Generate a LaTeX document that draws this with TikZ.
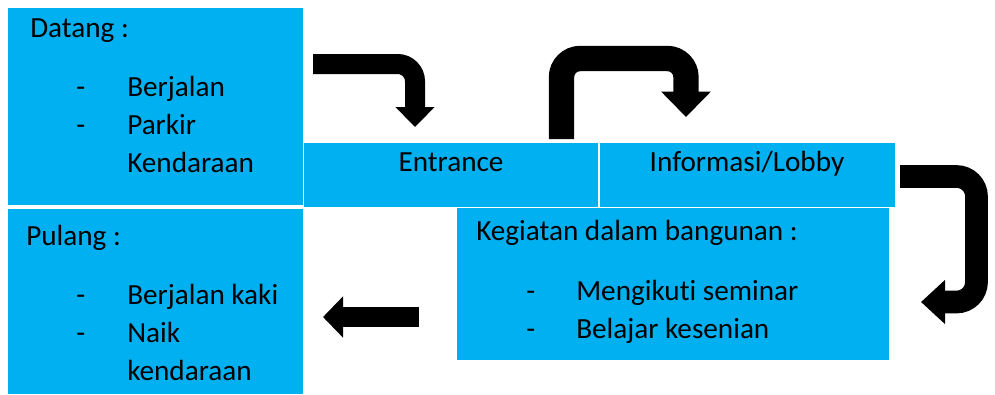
\documentclass[tikz,border=0pt]{standalone}
\usepackage{fontspec}
\setmainfont{Carlito}[Ligatures=NoCommon]
\usetikzlibrary{arrows.meta}
\definecolor{boxblue}{HTML}{00B0F0}

\begin{document}
\begin{tikzpicture}[x=0.75pt, y=-0.75pt, font=\fontsize{21.9pt}{26pt}\selectfont,
  lbl/.style={anchor=base west, inner sep=0pt},
  mid/.style={anchor=base, inner sep=0pt},
  blockarrow/.style={draw=black, line width=#1}]
\useasboundingbox (0,0) rectangle (995,394);
% left column: coming and leaving
\fill[boxblue] (8,8) rectangle (303,205);
\node[lbl] (datang) at (30,37) {Datang :};
\node[lbl] (dashA) at (76,96) {-};
\node[lbl] (berjalan) at (127,96) {Berjalan};
\node[lbl] (dashB) at (76,134) {-};
\node[lbl] (parkir) at (127,134) {Parkir};
\node[lbl] (kendaraanA) at (127,172) {Kendaraan};
\fill[boxblue] (8,209) rectangle (303,394);
\node[lbl] (pulang) at (26,245) {Pulang :};
\node[lbl] (dashC) at (76,304) {-};
\node[lbl] (kaki) at (127,304) {Berjalan kaki};
\node[lbl] (dashD) at (76,342) {-};
\node[lbl] (naik) at (127,342) {Naik};
\node[lbl] (kendaraanB) at (127,380) {kendaraan};
% middle row: entrance and lobby
\fill[boxblue] (304,143) rectangle (598,207);
\fill[boxblue] (600,143) rectangle (895,207);
\node[mid] (entrance) at (451,171) {Entrance};
\node[mid] (lobby) at (747,171) {Informasi/Lobby};
% inside the building
\fill[boxblue] (457,208) rectangle (889,360);
\node[lbl] (kegiatan) at (476,240) {Kegiatan dalam bangunan :};
\node[lbl] (dashE) at (526,300) {-};
\node[lbl] (seminar) at (576,300) {Mengikuti seminar};
\node[lbl] (dashF) at (526,338) {-};
\node[lbl] (kesenian) at (576,338) {Belajar kesenian};
% block arrows
\coordinate (a1s) at (313,64);
\coordinate (a1e) at (415,127);
\coordinate (a2s) at (561.5,139);
\coordinate (a2top) at (620,58.5);
\coordinate (a2e) at (686,117);
\coordinate (a3s) at (900,176.5);
\coordinate (a3mid) at (976.5,240);
\coordinate (a3e) at (921,302);
\coordinate (a4s) at (419,317);
\coordinate (a4e) at (323,317);
\draw[blockarrow=15pt, rounded corners=13pt,
  -{Triangle[width=28.5pt, length=15pt]}] (a1s) -| (a1e);
\draw[blockarrow=19pt, rounded corners=14pt,
  -{Triangle[width=36pt, length=19pt]}] (a2s) |- (a2top) -| (a2e);
\draw[blockarrow=17pt, rounded corners=15pt,
  -{Triangle[width=32pt, length=18pt]}] (a3s) -| (a3mid) |- (a3e);
\draw[blockarrow=15pt, -{Triangle[width=30pt, length=15pt]}] (a4s) -- (a4e);
\end{tikzpicture}
\end{document}
